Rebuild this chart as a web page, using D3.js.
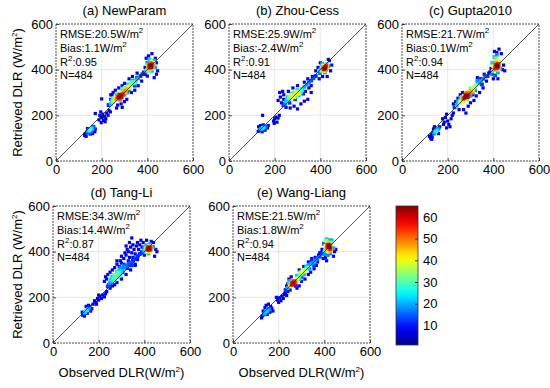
<!DOCTYPE html>
<html>
<head>
<meta charset="utf-8">
<script src="https://cdn.jsdelivr.net/npm/d3@7"></script>
<style>
  body { margin: 0; background: #fff; }
  svg { font-family: Arial, "Liberation Sans", sans-serif; }
</style>
</head>
<body>
<div id="chart"></div>
<script>
var width = 550, height = 388;

var titles = ["(a) NewParam", "(b) Zhou-Cess", "(c) Gupta2010", "(d) Tang-Li", "(e) Wang-Liang"];
var rmse = ["20.5", "25.9", "21.7", "34.3", "21.5"];
var bias = ["1.1", "-2.4", "0.1", "14.4", "1.8"];
var r2 = ["0.95", "0.91", "0.94", "0.87", "0.94"];
var nObs = [484, 484, 484, 484, 484];
var axisTicks = [0, 200, 400, 600];
var colorTicks = [10, 20, 30, 40, 50, 60];
var densityDomain = [1, 65];

// [observed, retrieved, density]
var newParam = [
  [125,112,8],[128,120,8],[132,108,8],[135,125,12],[140,130,18],[145,134,24],[150,138,28],[155,142,24],[160,146,18],[164,150,12],
  [150,118,8],[160,120,8],[170,128,8],[138,142,8],[172,140,8],[145,125,14],[155,132,16],
  [188,180,8],[192,200,8],[198,168,8],[200,190,8],[205,205,8],[208,178,8],[212,195,8],[218,185,8],[222,210,8],[228,200,8],
  [232,222,8],[238,215,8],[196,215,8],[215,172,8],[172,208,8],[200,272,8],[240,270,8],[245,290,8],
  [275,278,62],[283,285,60],[290,292,56],[268,272,50],[296,300,48],[302,308,48],[310,315,46],
  [278,290,60],[288,280,58],[270,282,55],[295,292,52],[282,272,52],[262,272,45],[305,300,44],[300,315,42],
  [315,325,38],[322,318,34],[330,345,28],[345,340,24],[255,265,36],[248,268,26],
  [260,265,40],[318,322,40],[325,330,38],[262,280,40],[285,300,40],
  [250,258,32],[330,338,30],[340,345,30],[255,275,32],[270,295,30],[300,320,30],
  [240,250,22],[245,262,22],[350,352,22],[360,362,20],[335,352,20],[315,335,22],[290,310,24],[265,290,22],[280,268,22],[300,290,20],
  [230,245,12],[370,372,12],[355,365,14],[345,330,12],[310,300,14],[320,310,14],[378,380,12],[385,388,12],
  [240,290,8],[250,300,8],[260,310,8],[275,320,8],[290,330,8],[300,340,8],[320,360,8],[335,370,8],[355,385,8],[270,245,8],
  [285,250,8],[300,260,8],[310,270,8],[330,300,8],[345,310,8],[360,330,8],[375,350,8],[290,235,8],[265,232,8],
  [415,418,65],[410,410,58],[420,425,55],[405,405,48],[425,415,48],[412,428,50],[400,400,40],[420,405,40],[418,435,40],
  [412,420,62],[418,410,60],[408,418,55],[422,418,52],[415,430,50],[403,412,45],[425,428,42],[410,400,44],
  [402,420,32],[428,430,32],[408,395,30],[395,395,22],[430,440,20],[410,445,22],[435,410,20],[400,430,18],[420,395,20],
  [390,380,8],[440,380,8],[445,395,8],[435,450,8],[420,470,8],[405,460,8],[395,450,8],[440,430,8],[430,365,8],[390,410,8],[400,372,8]
];

var zhouCess = [
  [140,140,20],[148,145,24],[155,148,20],[135,135,14],[162,150,14],
  [128,130,8],[130,150,8],[145,128,8],[158,135,8],[168,145,8],[172,155,8],[138,155,8],[150,158,8],[147,200,8],
  [195,175,8],[200,185,8],[205,192,8],[210,170,8],[215,188,8],[198,165,8],[220,200,8],[215,265,8],[225,280,8],[235,305,8],[222,300,8],[240,270,8],
  [280,285,40],[290,292,42],[300,298,40],[272,282,36],
  [270,290,38],[295,305,36],[305,295,38],[285,280,40],[262,280,34],[315,310,30],
  [265,275,32],[310,305,32],[285,300,30],[295,282,30],
  [250,262,22],[258,280,20],[275,295,22],[300,310,20],[315,300,24],[320,315,22],[330,325,20],[340,335,18],[260,268,24],[245,250,16],
  [305,288,22],[350,345,16],[360,352,14],[370,362,14],
  [238,245,12],[380,372,12],[325,295,12],[265,255,12],[290,270,14],
  [250,235,8],[268,232,8],[285,240,8],[300,228,8],[315,250,8],[330,262,8],[345,270,8],[335,305,8],[350,320,8],[330,345,8],
  [345,360,8],[360,330,8],[365,370,8],[300,330,8],[280,320,8],[260,305,8],[240,290,8],[230,255,8],[360,300,8],
  [420,410,63],[415,402,56],[425,418,55],[410,405,48],[428,408,46],[418,395,40],[412,418,40],[405,395,32],[430,425,30],
  [418,405,65],[422,412,60],[412,410,50],[425,400,50],[428,415,45],[415,395,42],
  [400,400,22],[435,415,20],[420,388,20],[408,425,20],[398,385,16],
  [390,410,8],[400,430,8],[380,395,8],[440,440,8],[450,420,8],[445,395,8],[430,370,8],[410,370,8],[395,360,8],[435,445,8]
];

var gupta = [
  [145,125,22],[150,130,26],[155,135,22],[140,120,16],[160,142,16],[148,138,14],
  [120,108,8],[125,100,8],[128,115,8],[132,105,8],[135,125,8],[138,140,8],[160,120,8],[165,150,8],[142,150,8],[130,95,8],
  [178,185,8],[185,170,8],[190,190,8],[195,205,8],[200,175,8],[205,160,8],[210,150,8],[215,185,8],[220,200,8],[225,210,8],[195,145,8],[182,160,8],
  [275,278,60],[283,285,63],[290,290,56],[268,270,50],[295,298,48],[278,292,48],[302,305,46],
  [278,288,62],[288,280,60],[272,276,56],[295,292,52],[265,275,46],[300,300,48],[282,298,50],[310,308,42],[255,262,36],[315,322,36],
  [260,262,40],[310,315,40],[318,325,38],[290,305,40],[270,260,40],
  [252,255,32],[325,332,30],[300,318,30],[262,280,30],[285,270,32],
  [240,242,22],[245,258,20],[335,340,20],[345,350,20],[330,350,18],[310,300,20],[355,360,16],[365,370,14],[255,270,20],[320,310,18],[300,285,20],
  [230,235,12],[375,372,12],[350,335,12],[340,360,12],
  [235,260,8],[245,275,8],[255,290,8],[265,300,8],[280,210,8],[270,225,8],[290,240,8],[300,255,8],[315,265,8],[325,285,8],
  [340,300,8],[355,320,8],[370,350,8],[380,385,8],[360,380,8],[330,365,8],[250,225,8],[310,290,8],[225,250,8],
  [415,415,63],[410,408,56],[420,425,55],[405,400,48],[425,418,48],[412,432,46],[400,415,40],[418,440,40],[422,400,40],
  [418,418,65],[412,422,60],[420,410,58],[408,415,52],[425,425,48],[415,405,50],
  [398,395,32],[428,432,30],[410,450,30],
  [395,430,22],[405,455,20],[415,465,18],[420,388,20],[430,405,20],[395,380,16],[408,375,14],
  [405,480,8],[415,475,8],[425,490,8],[435,470,8],[440,400,8],[450,395,8],[445,420,8],[390,405,8],[385,390,8],[420,360,8],[400,360,8]
];

var tangLi = [
  [140,135,22],[146,142,24],[152,148,20],[158,152,16],[135,128,14],
  [130,122,8],[128,135,8],[138,118,8],[150,130,8],[155,165,8],[162,160,8],[170,150,8],[175,170,8],[165,140,8],[145,160,8],
  [182,185,8],[188,178,8],[195,195,8],[200,188,8],[205,205,8],[212,195,8],[218,210,8],[225,202,8],[230,215,8],[235,225,8],[190,170,8],[200,210,8],
  [265,285,30],[275,295,32],[285,305,30],[270,278,28],
  [262,280,28],[272,288,30],[280,300,30],[290,310,26],[268,298,26],[255,280,22],[300,315,22],[295,330,18],[310,340,16],
  [255,272,22],[260,290,20],[280,310,22],[290,318,20],[295,300,22],[300,325,18],[310,330,18],[320,338,16],[250,262,18],[245,255,14],
  [330,345,14],[340,352,14],[285,290,24],
  [350,360,12],[360,370,12],[370,380,12],[380,390,12],[240,248,12],[305,310,12],[325,328,12],[345,340,12],[390,398,12],
  [240,300,8],[250,310,8],[260,320,8],[270,330,8],[280,345,8],[290,335,8],[295,360,8],[300,380,8],[310,370,8],[315,395,8],
  [320,385,8],[325,410,8],[330,400,8],[335,375,8],[340,420,8],[345,395,8],[350,430,8],[355,410,8],[360,390,8],[365,425,8],
  [370,440,8],[375,410,8],[380,430,8],[385,450,8],[310,345,8],[300,350,8],[330,360,8],[350,375,8],[360,345,8],[370,365,8],
  [280,360,8],[320,425,8],[335,440,8],[345,460,8],[230,290,8],[225,270,8],[235,280,8],
  [260,250,8],[270,255,8],[280,265,8],[300,280,8],[320,300,8],[340,320,8],[360,340,8],[250,240,8],
  [420,412,63],[415,418,58],[425,408,55],[410,408,48],[428,418,46],[412,400,40],[420,425,40],[405,415,32],[432,410,30],
  [420,415,65],[418,408,62],[424,418,58],[414,412,55],[428,412,50],[420,422,48],[410,418,44],[425,400,42],
  [400,400,22],[408,428,20],[425,432,20],[438,420,18],[418,392,20],[398,418,16],
  [450,410,8],[455,400,8],[445,380,8],[395,440,8],[430,445,8],[410,450,8],[390,420,8],[440,440,8],[400,385,8],[390,395,8]
];

var wangLiang = [
  [140,130,20],[146,138,22],[152,143,20],[158,150,16],[135,125,14],
  [128,118,8],[125,110,8],[132,140,8],[140,155,8],[145,165,8],[155,170,8],[165,160,8],[170,152,8],[175,140,8],[150,125,8],[162,135,8],
  [195,188,8],[200,178,8],[205,198,8],[210,185,8],[215,205,8],[220,195,8],[225,212,8],[230,218,8],[235,208,8],[240,225,8],[250,232,8],[190,200,8],
  [262,260,60],[268,265,55],[255,255,48],[272,270,48],[260,268,46],
  [265,265,62],[260,255,58],[270,262,56],[258,262,54],[268,272,52],[275,268,46],[252,258,44],[280,282,38],[305,312,40],[312,320,38],[298,302,34],
  [250,250,40],[278,275,40],[300,308,38],[310,315,40],[305,318,36],
  [285,285,32],[292,295,30],[318,322,32],[295,310,30],[325,330,28],
  [245,262,22],[250,272,20],[280,295,22],[240,242,20],[290,280,22],[330,338,20],[340,345,20],[350,352,18],[360,362,18],[370,370,16],
  [380,378,14],[310,300,20],[320,335,20],[335,325,18],
  [230,232,12],[275,250,12],[300,290,12],[345,360,12],[355,340,12],[390,392,12],
  [240,260,8],[245,280,8],[235,250,8],[255,290,8],[280,240,8],[290,250,8],[300,270,8],[315,280,8],[330,300,8],[340,310,8],
  [355,325,8],[365,340,8],[370,355,8],[360,375,8],[345,370,8],[330,355,8],[310,335,8],[290,320,8],[385,395,8],[375,385,8],
  [420,420,63],[415,428,58],[425,412,56],[410,415,48],[422,432,48],[428,405,46],[412,440,40],[418,400,40],[405,425,40],
  [420,422,65],[418,430,62],[424,418,60],[414,420,55],[426,428,52],[412,428,50],[428,418,48],[416,440,44],[420,410,45],
  [408,448,32],[430,440,30],[402,405,30],
  [410,455,22],[420,450,20],[432,450,20],[440,415,20],[400,390,18],[415,385,18],[425,392,18],[398,435,16],
  [450,410,8],[445,400,8],[395,370,8],[410,360,8],[380,395,8],[440,380,8],[390,410,8],[405,375,8]
];

var panelData = [newParam, zhouCess, gupta, tangLi, wangLiang];

// panel positions (top-left corner of each plot box)
var panels = [
  {x: 56, y: 24, ylab: true, xlab: false},
  {x: 229, y: 24, ylab: false, xlab: false},
  {x: 402, y: 24, ylab: false, xlab: false},
  {x: 53, y: 206, ylab: true, xlab: true},
  {x: 233, y: 206, ylab: false, xlab: true}
];
var size = 137;

var svg = d3.select("#chart").append("svg")
    .attr("width", width)
    .attr("height", height);

var span = densityDomain[1] - densityDomain[0];
var jet = d3.scaleLinear()
    .domain([0, 0.125, 0.375, 0.625, 0.875, 1].map(function(t) { return densityDomain[0] + t * span; }))
    .range(["#00008f", "#0000ff", "#00ffff", "#ffff00", "#ff0000", "#800000"])
    .clamp(true);

var x = d3.scaleLinear().domain([0, 600]).range([0, size]);
var y = d3.scaleLinear().domain([0, 600]).range([size, 0]);

// sparse points drawn a bit smaller than the packed ones
function dotSize(d) { return d[2] < 10 ? 3.2 : 3.8; }

// W/m² with superscript
function unitText(sel, before, after) {
  sel.append("tspan").text(before + "W/m");
  sel.append("tspan").attr("dy", -5).style("font-size", "8px").text("2");
  sel.append("tspan").attr("dy", 5).text(after || "");
}

panels.forEach(function(p, i) {
  var g = svg.append("g").attr("transform", "translate(" + p.x + "," + p.y + ")");

  // grid
  g.selectAll(".gx").data([200, 400]).enter().append("line")
      .attr("x1", function(d) { return x(d); }).attr("x2", function(d) { return x(d); })
      .attr("y1", 0).attr("y2", size)
      .attr("stroke", "#e2e2e2").attr("stroke-width", 0.8);
  g.selectAll(".gy").data([200, 400]).enter().append("line")
      .attr("y1", function(d) { return y(d); }).attr("y2", function(d) { return y(d); })
      .attr("x1", 0).attr("x2", size)
      .attr("stroke", "#e2e2e2").attr("stroke-width", 0.8);

  // axes
  var xa = g.append("g").attr("transform", "translate(0," + size + ")")
      .call(d3.axisBottom(x).tickValues(axisTicks).tickSize(-3).tickPadding(4));
  var ya = g.append("g")
      .call(d3.axisLeft(y).tickValues(axisTicks).tickSize(-3).tickPadding(3));
  [xa, ya].forEach(function(a) {
    a.select(".domain").remove();
    a.selectAll("text").style("font-size", "13px").attr("fill", "#000").style("font-family", "Arial, 'Liberation Sans', sans-serif");
    a.selectAll("line").attr("stroke", "#444");
  });

  // points, low density first
  var pts = panelData[i].slice().sort(function(a, b) { return a[2] - b[2]; });
  g.selectAll(".pt").data(pts).enter().append("rect")
      .attr("x", function(d) { return x(d[0]) - dotSize(d) / 2; })
      .attr("y", function(d) { return y(d[1]) - dotSize(d) / 2; })
      .attr("width", dotSize).attr("height", dotSize)
      .attr("fill", function(d) { return jet(d[2]); });

  // 1:1 line
  g.append("line")
      .attr("x1", x(0)).attr("y1", y(0)).attr("x2", x(600)).attr("y2", y(600))
      .attr("stroke", "#222").attr("stroke-width", 0.8);

  // box
  g.append("rect")
      .attr("width", size).attr("height", size)
      .attr("fill", "none").attr("stroke", "#333").attr("stroke-width", 0.9)
      .attr("stroke-dasharray", "2,1");

  // stats
  var stats = g.append("g").attr("transform", "translate(4,0)").style("font-size", "11px");
  unitText(stats.append("text").attr("y", 14), "RMSE:" + rmse[i]);
  unitText(stats.append("text").attr("y", 28), "Bias:" + bias[i]);
  var r = stats.append("text").attr("y", 42);
  r.append("tspan").text("R");
  r.append("tspan").attr("dy", -5).style("font-size", "8px").text("2");
  r.append("tspan").attr("dy", 5).text(":" + r2[i]);
  stats.append("text").attr("y", 55).text("N=" + nObs[i]);

  // title
  g.append("text")
      .attr("x", size / 2).attr("y", -9)
      .attr("text-anchor", "middle")
      .style("font-size", "13px")
      .text(titles[i]);

  if (p.ylab) {
    var yl = g.append("text")
        .attr("transform", "translate(" + (22 - p.x) + "," + (size / 2) + ") rotate(-90)")
        .attr("text-anchor", "middle")
        .style("font-size", "13px");
    unitText(yl, "Retrieved DLR (", ")");
  }
  if (p.xlab) {
    var xl = g.append("text")
        .attr("x", size / 2).attr("y", size + 34)
        .attr("text-anchor", "middle")
        .style("font-size", "13px");
    unitText(xl, "Observed DLR(", ")");
  }
});

// colorbar
var cb = {x: 396, y: 206, w: 22, h: 139};
var cScale = d3.scaleLinear().domain(densityDomain).range([cb.h, 0]);

var grad = svg.append("defs").append("linearGradient")
    .attr("id", "jetgrad")
    .attr("x1", 0).attr("y1", 1).attr("x2", 0).attr("y2", 0);
d3.range(0, 1.0001, 0.05).forEach(function(t) {
  grad.append("stop")
      .attr("offset", t)
      .attr("stop-color", jet(densityDomain[0] + t * span));
});

var cg = svg.append("g").attr("transform", "translate(" + cb.x + "," + cb.y + ")");
cg.append("rect")
    .attr("width", cb.w).attr("height", cb.h)
    .attr("fill", "url(#jetgrad)")
    .attr("stroke", "#333").attr("stroke-width", 0.8);

var ca = cg.append("g").attr("transform", "translate(" + cb.w + ",0)")
    .call(d3.axisRight(cScale).tickValues(colorTicks).tickSize(-3).tickPadding(5));
ca.select(".domain").remove();
ca.selectAll("text").style("font-size", "13px").attr("fill", "#000").style("font-family", "Arial, 'Liberation Sans', sans-serif");
ca.selectAll("line").attr("stroke", "#333");
</script>
</body>
</html>
